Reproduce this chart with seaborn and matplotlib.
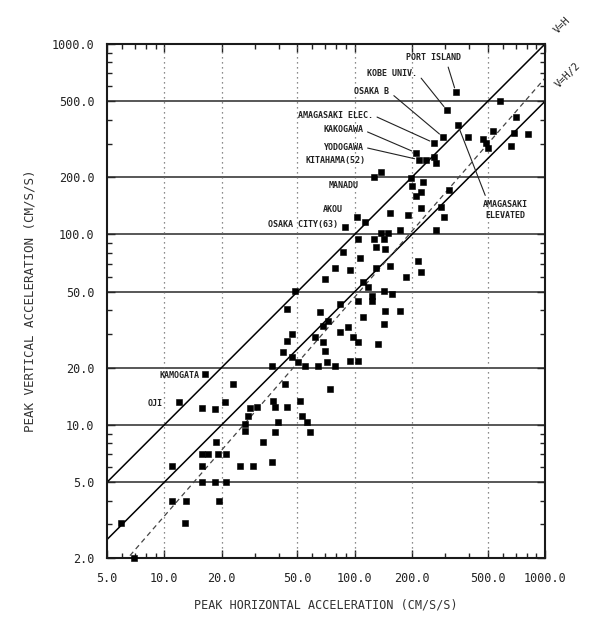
import numpy as np
import pandas as pd
import seaborn as sns
import matplotlib as mpl
from matplotlib import pyplot as plt
from matplotlib.ticker import FixedLocator, FuncFormatter, LogLocator, NullFormatter

# peak horizontal / vertical accelerations (cm/s/s)
h_acc = [16.4, 12.0, 23.0, 15.8, 18.5, 20.9, 28.3, 30.8, 27.6, 26.6, 26.6, 18.7,
         15.8, 16.9, 19.2, 21.1, 11.0, 15.8, 25.1, 29.4, 15.8, 18.5, 21.1, 11.0, 13.0, 19.4, 5.9, 12.9, 6.9, 33.1, 36.9,
         44.3, 66.1, 84.2, 104.7, 124, 145, 142, 174, 72.8, 68.5, 84.2, 92.7, 110, 47.1, 44.3, 62.2, 68.5, 70.2, 98.6, 104.7, 132,
         42.2, 47.1, 50.6, 36.9, 55.1, 64.5, 71.9, 79.2, 95.1, 104.7, 43.2, 74.6, 37.4, 38.3, 44.3, 51.8, 39.7, 38.3, 53.1, 56.5, 58.5, 48.8,
         103.5, 114, 89.5, 154, 190, 222, 283, 293, 312, 266, 174, 137, 149, 142, 126, 129, 145, 104.7, 87.3, 107, 214, 79.2, 95.1,
         129, 154, 185, 222, 70.2, 110, 117, 124, 142, 158,
         126, 137, 197, 201, 222, 211, 228,
         290, 260, 209, 217, 236, 260, 266,
         340, 304, 578, 348, 702, 812, 686, 661, 531, 471, 488, 500, 392]
v_acc = [18.5, 13.2, 16.4, 12.3, 12.1, 13.2, 12.3, 12.4, 11.1, 10.1, 9.3, 8.1,
         7.05, 7.05, 7.05, 7.05, 6.1, 6.1, 6.1, 6.1, 5.0, 5.0, 5.0, 4.0, 4.0, 4.0, 3.07, 3.07, 2.0, 8.1, 6.4,
         40.5, 39.1, 43.0, 44.6, 44.6, 39.5, 33.8, 39.5, 35.0, 33.0, 30.7, 32.6, 36.8, 30.0, 27.5, 28.9, 27.2, 24.4, 28.9, 27.2, 26.6,
         24.1, 22.7, 21.4, 20.4, 20.4, 20.4, 21.4, 20.4, 21.6, 21.6, 16.4, 15.4, 13.4, 12.4, 12.4, 13.4, 10.4, 9.2, 11.1, 10.4, 9.2, 50.3,
         124, 116, 110, 130, 127, 138, 140, 123, 172, 106, 106, 102, 102, 94.1, 94.1, 85.5, 83.5, 94.1, 80.5, 74.9, 72.2, 66.4, 64.8,
         66.4, 68.0, 59.6, 63.2, 58.1, 56.1, 52.8, 47.4, 50.3, 48.5,
         201, 214, 199, 180, 168, 160, 189,
         326, 303, 269, 247, 247, 256, 238,
         561, 451, 503, 377, 415, 338, 342, 292, 350, 318, 303, 285, 326]

# named stations
station_names = ['PORT ISLAND', 'KOBE UNIV.', 'OSAKA B', 'AMAGASAKI ELEC.', 'KAKOGAWA', 'YODOGAWA',
                 'KITAHAMA(52)', 'MANADU', 'AKOU', 'OSAKA CITY(63)', 'AMAGASAKI\nELEVATED', 'KAMOGATA', 'OJI']
station_h = [340, 304, 290, 260, 209, 217, 236, 126, 103.5, 89.5, 348, 16.4, 12.0]
station_v = [561, 451, 326, 303, 269, 247, 247, 201, 124, 110, 377, 18.5, 13.2]

x_ticks = [5, 10, 20, 50, 100, 200, 500, 1000]
y_ticks = [2, 5, 10, 20, 50, 100, 200, 500, 1000]

# dashed fitted line V = a * H^b
fit_a = 0.235
fit_b = 1.15

df = pd.DataFrame({'H': h_acc, 'V': v_acc})

sns.set_style('ticks')
plt.rcParams['font.family'] = ['DejaVu Sans Mono']

W, H = 598, 624
fig = plt.figure(figsize=(W / 100, H / 100), dpi=100)
ax = fig.add_axes([107 / W, 1 - 558 / H, (545 - 107) / W, (558 - 44) / H])
ax.set_xscale('log')
ax.set_yscale('log')
ax.set_xlim(5, 1000)
ax.set_ylim(2, 1000)

# grid: solid horizontals, dotted verticals
for yv in y_ticks[1:-1]:
    ax.axhline(yv, color='#2a2a2a', lw=1.1, zorder=1)
for xv in x_ticks[1:-1]:
    ax.axvline(xv, color='#666666', lw=0.9, ls=(0, (1, 3)), zorder=1)

hh = np.array([5.0, 1000.0])
ax.plot(hh, hh, color='black', lw=1.1, zorder=2)
ax.plot(hh, hh / 2, color='black', lw=1.1, zorder=2)
hf = np.geomspace(5, 1000, 50)
ax.plot(hf, fit_a * hf ** fit_b, color='#444444', lw=0.9, ls=(0, (4, 3)), zorder=2)

sns.scatterplot(data=df, x='H', y='V', marker='s', s=21, color='black',
                edgecolor='black', linewidth=0.4, ax=ax, zorder=3, clip_on=False)

ax.xaxis.set_major_locator(FixedLocator(x_ticks))
ax.yaxis.set_major_locator(FixedLocator(y_ticks))
fmt = FuncFormatter(lambda v, p: '%.1f' % v)
ax.xaxis.set_major_formatter(fmt)
ax.yaxis.set_major_formatter(fmt)
ax.xaxis.set_minor_locator(LogLocator(base=10, subs=np.arange(2, 10)))
ax.yaxis.set_minor_locator(LogLocator(base=10, subs=np.arange(2, 10)))
ax.xaxis.set_minor_formatter(NullFormatter())
ax.yaxis.set_minor_formatter(NullFormatter())
ax.tick_params(which='both', direction='in', top=True, right=True, width=1, colors='#222222')
ax.tick_params(which='major', length=6, labelsize=8.5)
ax.tick_params(which='minor', length=3.5)
ax.tick_params(axis='y', pad=9)
ax.tick_params(axis='x', pad=10)
for s in ax.spines.values():
    s.set_linewidth(1.5)
    s.set_color('#1a1a1a')

ax.set_xlabel('PEAK HORIZONTAL ACCELERATION (CM/S/S)', fontsize=8.5, labelpad=10, color='#333333')
ax.set_ylabel('PEAK VERTICAL ACCELERATION (CM/S/S)', fontsize=9, labelpad=11, color='#333333')

# station labels (text placed in figure pixels)
txt_pos = [(433, 58), (392, 73), (372, 92), (335, 115), (343, 130), (343, 147),
           (335, 160), (344, 185), (333, 210), (338, 225), (505, 210), (200, 375), (163, 403)]
txt_ha = ['center', 'center', 'center', 'center', 'center', 'center',
          'center', 'center', 'center', 'right', 'center', 'right', 'right']
leader = [(0.75, 0), (1, 0.5), (1, 0.5), (1, 0.5), (1, 0.5), (1, 0.5),
          None, None, None, None, (0.1, 1), None, None]
for name, sh, sv, (tx, ty), ha, rp in zip(station_names, station_h, station_v, txt_pos, txt_ha, leader):
    kw = {}
    if rp is not None:
        kw['arrowprops'] = dict(arrowstyle='-', lw=0.8, color='#222222', shrinkA=1, shrinkB=3, relpos=rp)
    ax.annotate(name, xy=(sh, sv), xycoords='data', xytext=(tx, H - ty), textcoords='figure pixels',
                ha=ha, va='center', fontsize=6, fontweight='bold', color='#222222',
                linespacing=1.3, annotation_clip=False, **kw)

fig.text(562 / W, 1 - 25 / H, 'V=H', rotation=45, ha='center', va='center', fontsize=7.5, color='#222222')
fig.text(568 / W, 1 - 75 / H, 'V=H/2', rotation=45, ha='center', va='center', fontsize=7.5, color='#222222')

fig.savefig('out.png', dpi=100, facecolor='white')
